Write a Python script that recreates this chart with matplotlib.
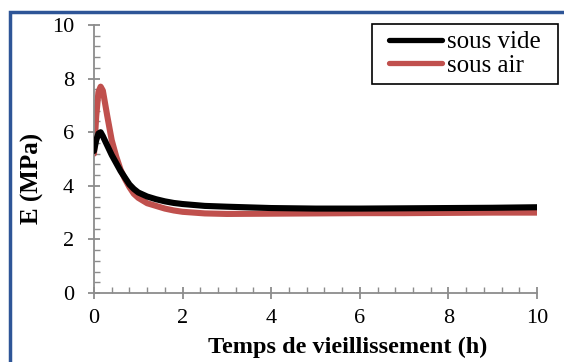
import matplotlib
matplotlib.use("Agg")
import matplotlib.pyplot as plt
from matplotlib.ticker import MultipleLocator
from matplotlib.patches import Rectangle

# Data
time_h = [0, 0.05, 0.1, 0.15, 0.2, 0.3, 0.4, 0.5, 0.6, 0.7, 0.8, 0.9, 1.0,
          1.2, 1.4, 1.6, 1.8, 2.0, 2.5, 3, 4, 5, 6, 7, 8, 9, 10]
e_vide = [5.3, 5.7, 5.95, 6.0, 5.85, 5.5, 5.15, 4.85, 4.55, 4.3, 4.05, 3.88, 3.75,
          3.6, 3.5, 3.42, 3.36, 3.32, 3.25, 3.22, 3.17, 3.15, 3.15, 3.16, 3.17, 3.18, 3.2]
e_air = [5.2, 6.6, 7.5, 7.7, 7.55, 6.6, 5.7, 5.1, 4.6, 4.25, 3.95, 3.7, 3.55,
         3.35, 3.25, 3.15, 3.08, 3.03, 2.97, 2.95, 2.96, 2.97, 2.98, 2.98, 2.99, 3.0, 3.0]
series_labels = ["sous vide", "sous air"]
xlabel = "Temps de vieillissement (h)"
ylabel = "E (MPa)"

plt.rcParams['font.family'] = ['Liberation Serif', 'DejaVu Serif']

W, H = 564, 362
fig = plt.figure(figsize=(W/100, H/100), dpi=100)
ax = fig.add_axes([94/W, 1-293/H, (537-94)/W, (293-25)/H])

ax.plot(time_h, e_vide, color='black', lw=4.4, label=series_labels[0],
        solid_capstyle='round', solid_joinstyle='round', zorder=3)
ax.plot(time_h, e_air, color='#C0504D', lw=4.4, label=series_labels[1],
        solid_capstyle='round', solid_joinstyle='round', zorder=2)

ax.set_xlim(0, 10)
ax.set_ylim(0, 10)
ax.xaxis.set_major_locator(MultipleLocator(2))
ax.xaxis.set_minor_locator(MultipleLocator(0.4))
ax.yaxis.set_major_locator(MultipleLocator(2))
ax.yaxis.set_minor_locator(MultipleLocator(0.4))

gray = '#8C8C8C'
for s in ['top', 'right']:
    ax.spines[s].set_visible(False)
for s in ['left', 'bottom']:
    ax.spines[s].set_color(gray)
    ax.spines[s].set_linewidth(1.3)
ax.tick_params(which='major', direction='inout', length=9, width=1.3, color=gray,
               labelsize=16)
ax.tick_params(axis='y', which='major', pad=10)
ax.tick_params(axis='x', which='major', pad=7)
ax.tick_params(which='minor', direction='in', length=4.5, width=1.0, color=gray)

fig.text(348/W, 1-353/H, xlabel, fontsize=17.5, fontweight='bold',
         ha='center', va='baseline')
fig.text(32/W, 1-178/H, ylabel, fontsize=18, fontweight='bold',
         ha='center', va='center', rotation=90)

leg = fig.legend(loc='center', bbox_to_anchor=(465/W, 1-54/H),
                 bbox_transform=fig.transFigure, fontsize=18, frameon=False,
                 handlelength=2.1, handletextpad=0.2, borderpad=0.0,
                 labelspacing=0.05, borderaxespad=0)
for line in leg.get_lines():
    line.set_linewidth(3.8)
    line.set_solid_capstyle('round')

# legend box
fig.patches.append(Rectangle((372/W, 1-84/H), (558-372)/W, 60/H,
                             transform=fig.transFigure, fill=False,
                             edgecolor='black', linewidth=1.2, zorder=10))

# outer blue frame
fig.patches.append(Rectangle((10/W, -0.1), 1.2, (1-12/H) + 0.1,
                             transform=fig.transFigure, fill=False,
                             edgecolor='#2E5597', linewidth=2.5, zorder=10))

fig.savefig("out.png", dpi=100)
